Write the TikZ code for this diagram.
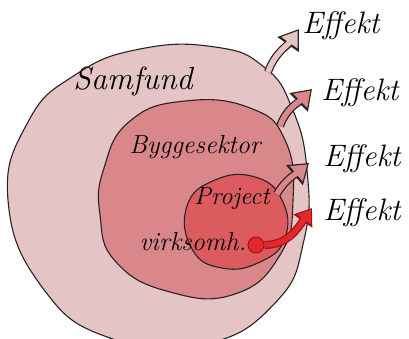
\documentclass[tikz,border=0pt]{standalone}
\usetikzlibrary{arrows.meta}
\definecolor{outerc}{HTML}{E5C4C6}
\definecolor{midc}{HTML}{D9878B}
\definecolor{innerc}{HTML}{DB5B5F}
\definecolor{redc}{HTML}{E3272A}
\definecolor{inkc}{HTML}{2A2222}
\definecolor{redink}{HTML}{9E1416}
\tikzset{
  blob/.style={draw=inkc, line width=1.1pt, line join=round},
  lbl/.style={inner sep=0pt, text=black, font=\itshape},
  eff/.style={inner sep=0pt, text=black, font=\fontsize{31}{31}\selectfont\itshape},
  arrout/.style={draw=inkc, line width=8pt, -{Triangle[length=19pt,width=25pt]}},
  arrin/.style={line width=5.5pt, shorten >=2.2pt, -{Triangle[length=14.5pt,width=19pt]}},
}
\begin{document}
\begin{tikzpicture}[x=1pt,y=-1pt]
\useasboundingbox (0,0) rectangle (409,338);
\begin{scope}
\clip (0,0) rectangle (409,338);
% outer blob (Samfund)
\path[blob, fill=outerc] plot[smooth cycle, tension=0.8] coordinates {
 (140,49) (215,47) (264,67) (292,108) (307,170) (304,240) (276,302)
 (205,344) (110,338) (42,287) (8,200) (28,122) (75,75)};
% middle blob (Byggesektor)
\path[blob, fill=midc] plot[smooth cycle, tension=0.8] coordinates {
 (104,168) (130,121) (185,101) (250,108) (285,140) (293,200) (280,255)
 (235,294) (170,292) (116,262) (100,215)};
% inner blob (Project)
\path[blob, fill=innerc] plot[smooth cycle, tension=0.8] coordinates {
 (187,206) (215,180) (255,177) (282,200) (285,238) (260,262) (222,268)
 (192,249)};
\end{scope}
% anchors
\coordinate (b1) at (268,72);  \coordinate (t1) at (299,29);
\coordinate (b2) at (280,126); \coordinate (t2) at (312,89);
\coordinate (b3) at (277,194); \coordinate (t3) at (309,163);
\coordinate (t4) at (312,208);
% labels
\node[lbl, font=\fontsize{32}{32}\selectfont\itshape] (sam) at (133,81) {Samfund};
\node[lbl, font=\fontsize{26}{26}\selectfont\itshape] (byg) at (195,147) {Byggesektor};
\node[lbl, font=\fontsize{25}{25}\selectfont\itshape] (pro) at (232,199) {Project};
\node[lbl, font=\fontsize{26}{26}\selectfont\itshape] (vir) at (193,242) {virksomh.};
% effect labels
\node[eff] (e1) at (341,26) {Effekt};
\node[eff] (e2) at (360,93) {Effekt};
\node[eff] (e3) at (362,159) {Effekt};
\node[eff] (e4) at (362,213) {Effekt};
% arrows
\draw[arrout] (b1) to[out=70,in=235] (t1);
\draw[arrin, outerc] (b1) to[out=70,in=235] (t1);
\draw[arrout] (b2) to[out=70,in=225] (t2);
\draw[arrin, midc] (b2) to[out=70,in=225] (t2);
\draw[arrout] (b3) to[out=60,in=220] (t3);
\draw[arrin, midc] (b3) to[out=60,in=220] (t3);
% red arrow from dot
\node[circle, fill=redc, draw=redink, line width=1pt, minimum size=16pt, inner sep=0pt] (dot) at (256,245) {};
\draw[redink, line width=8pt, -{Triangle[length=16pt,width=22pt]}] (dot.east) to[out=0,in=235] (t4);
\draw[redc, line width=5.5pt, shorten >=2pt, -{Triangle[length=12pt,width=16pt]}] (dot.east) to[out=0,in=235] (t4);
\end{tikzpicture}
\end{document}
